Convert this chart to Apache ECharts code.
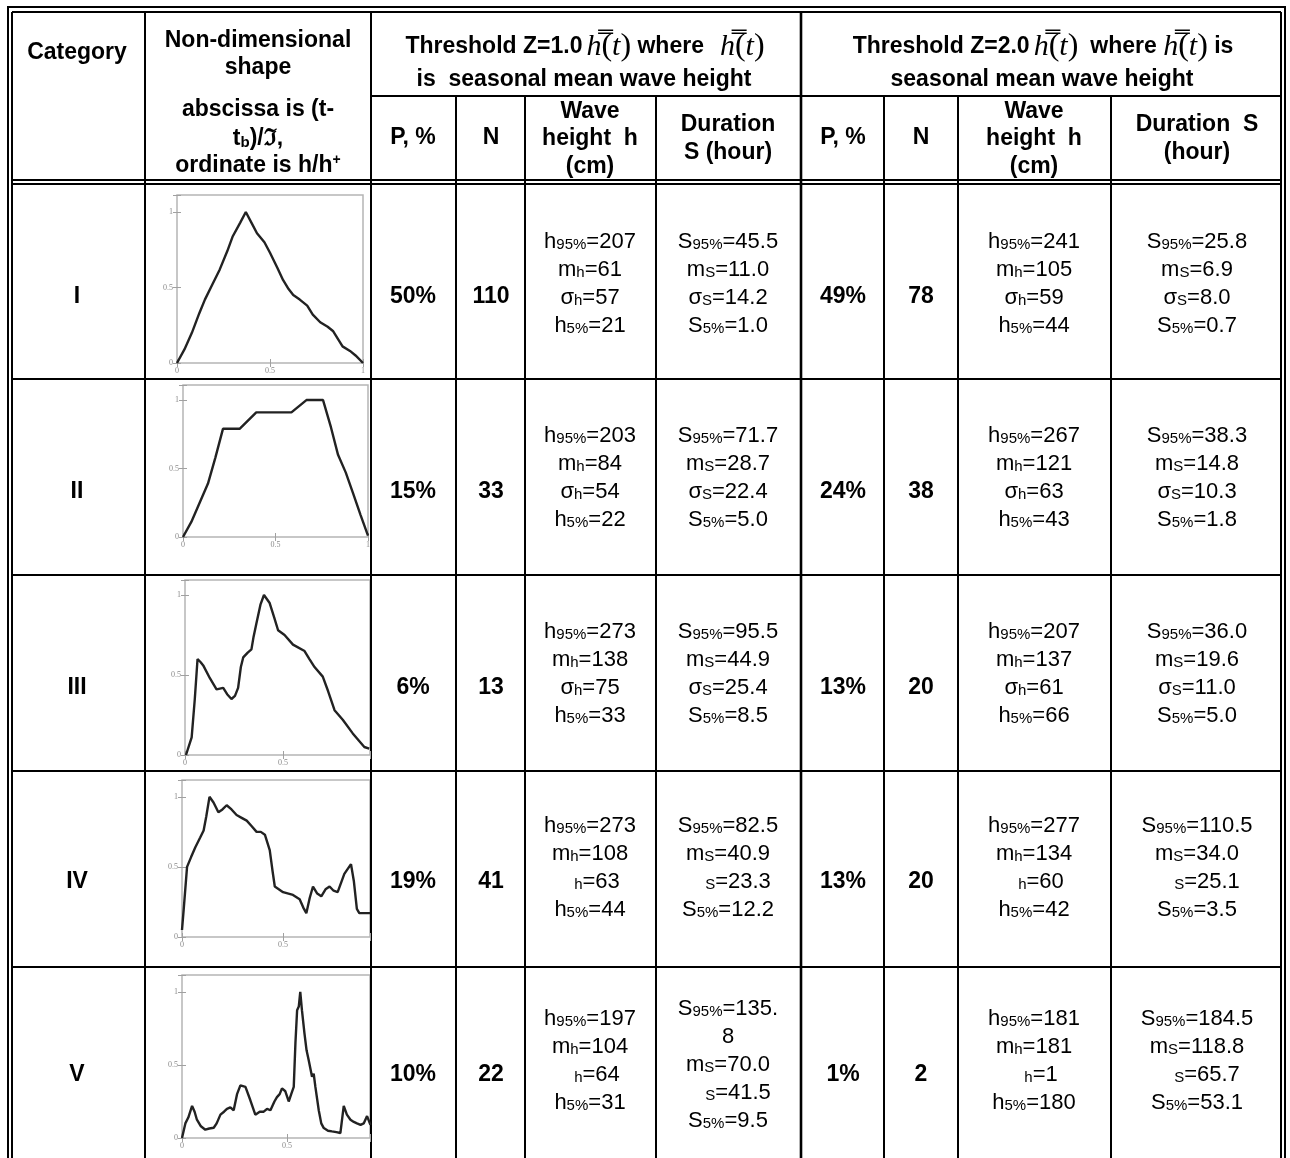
<!DOCTYPE html>
<html>
<head>
<meta charset="utf-8">
<script src="https://cdn.jsdelivr.net/npm/echarts@6/dist/echarts.min.js"></script>
<style>
  html, body { margin: 0; padding: 0; background: #fff; }
  #chart { width: 1290px; height: 1158px; }
</style>
</head>
<body>
<div id="chart"></div>
<script>
// table values
const categories = ["I", "II", "III", "IV", "V"];
const sigmaShown = [true, true, true, false, false];

// threshold Z=1.0
const p1 = ["50%", "15%", "6%", "19%", "10%"];
const n1 = [110, 33, 13, 41, 22];
const h95_1 = [207, 203, 273, 273, 197];
const mh_1 = [61, 84, 138, 108, 104];
const sh_1 = [57, 54, 75, 63, 64];
const h5_1 = [21, 22, 33, 44, 31];
const S95_1 = ["45.5", "71.7", "95.5", "82.5", "135.8"];
const mS_1 = ["11.0", "28.7", "44.9", "40.9", "70.0"];
const sS_1 = ["14.2", "22.4", "25.4", "23.3", "41.5"];
const S5_1 = ["1.0", "5.0", "8.5", "12.2", "9.5"];

// threshold Z=2.0
const p2 = ["49%", "24%", "13%", "13%", "1%"];
const n2 = [78, 38, 20, 20, 2];
const h95_2 = [241, 267, 207, 277, 181];
const mh_2 = [105, 121, 137, 134, 181];
const sh_2 = [59, 63, 61, 60, 1];
const h5_2 = [44, 43, 66, 42, 180];
const S95_2 = ["25.8", "38.3", "36.0", "110.5", "184.5"];
const mS_2 = ["6.9", "14.8", "19.6", "34.0", "118.8"];
const sS_2 = ["8.0", "10.3", "11.0", "25.1", "65.7"];
const S5_2 = ["0.7", "1.8", "5.0", "3.5", "53.1"];

// non-dimensional shapes, [x, h/h+]
const shapeI = [[0, 0], [0.04, 0.09], [0.08, 0.2], [0.12, 0.33], [0.15, 0.42], [0.19, 0.52], [0.23, 0.62], [0.27, 0.74],
  [0.30, 0.84], [0.34, 0.93], [0.37, 1.0], [0.40, 0.93], [0.43, 0.86], [0.47, 0.8], [0.50, 0.73], [0.54, 0.63],
  [0.57, 0.55], [0.6, 0.49], [0.625, 0.45], [0.66, 0.42], [0.70, 0.38], [0.73, 0.32], [0.77, 0.27], [0.81, 0.24],
  [0.84, 0.21], [0.87, 0.15], [0.89, 0.11], [0.93, 0.08], [0.96, 0.05], [1, 0]];
const shapeII = [[0, 0], [0.045, 0.11], [0.09, 0.25], [0.135, 0.39], [0.175, 0.58], [0.216, 0.79], [0.306, 0.79],
  [0.396, 0.91], [0.586, 0.91], [0.667, 1.0], [0.757, 1.0], [0.80, 0.8], [0.838, 0.6], [0.88, 0.47], [0.919, 0.32],
  [0.96, 0.16], [1.0, 0.01]];
const shapeIII = [[0.005, 0], [0.034, 0.11], [0.05, 0.35], [0.064, 0.6], [0.08, 0.58], [0.093, 0.56], [0.127, 0.48],
  [0.161, 0.41], [0.195, 0.42], [0.215, 0.38], [0.237, 0.35], [0.255, 0.37], [0.271, 0.42], [0.285, 0.55],
  [0.297, 0.61], [0.32, 0.64], [0.339, 0.66], [0.35, 0.74], [0.364, 0.82], [0.385, 0.94], [0.403, 1.0],
  [0.432, 0.95], [0.455, 0.86], [0.475, 0.78], [0.508, 0.75], [0.551, 0.69], [0.61, 0.65], [0.635, 0.6],
  [0.661, 0.55], [0.703, 0.49], [0.73, 0.4], [0.763, 0.28], [0.805, 0.22], [0.856, 0.135], [0.915, 0.05],
  [0.94, 0.04]];
const shapeIV = [[0, 0.05], [0.008, 0.19], [0.025, 0.5], [0.045, 0.57], [0.066, 0.64], [0.09, 0.71], [0.107, 0.76],
  [0.12, 0.86], [0.136, 1.0], [0.156, 0.96], [0.18, 0.89], [0.2, 0.91], [0.221, 0.94], [0.245, 0.91],
  [0.27, 0.87], [0.295, 0.85], [0.32, 0.83], [0.345, 0.79], [0.369, 0.75], [0.39, 0.75], [0.41, 0.73],
  [0.434, 0.62], [0.447, 0.48], [0.459, 0.36], [0.5, 0.32], [0.549, 0.3], [0.582, 0.27], [0.6, 0.21],
  [0.615, 0.17], [0.632, 0.28], [0.648, 0.36], [0.669, 0.31], [0.689, 0.29], [0.71, 0.34], [0.73, 0.36],
  [0.75, 0.33], [0.77, 0.32], [0.803, 0.45], [0.836, 0.52], [0.85, 0.4], [0.865, 0.2], [0.877, 0.17],
  [0.93, 0.17]];
const shapeV = [[0, 0], [0.016, 0.1], [0.03, 0.14], [0.048, 0.22], [0.06, 0.18], [0.071, 0.125], [0.09, 0.08],
  [0.111, 0.057], [0.13, 0.065], [0.151, 0.07], [0.165, 0.1], [0.183, 0.16], [0.2, 0.18], [0.214, 0.2],
  [0.23, 0.21], [0.246, 0.19], [0.262, 0.3], [0.278, 0.36], [0.302, 0.35], [0.325, 0.26], [0.349, 0.16],
  [0.37, 0.18], [0.389, 0.18], [0.405, 0.2], [0.421, 0.19], [0.44, 0.25], [0.452, 0.28], [0.465, 0.3],
  [0.476, 0.34], [0.492, 0.32], [0.508, 0.25], [0.52, 0.3], [0.532, 0.35], [0.54, 0.65], [0.548, 0.875],
  [0.556, 0.9], [0.563, 1.0], [0.571, 0.875], [0.583, 0.716], [0.593, 0.6], [0.603, 0.534], [0.619, 0.42],
  [0.627, 0.44], [0.635, 0.35], [0.651, 0.19], [0.663, 0.1], [0.675, 0.068], [0.695, 0.05], [0.714, 0.045],
  [0.735, 0.04], [0.754, 0.034], [0.77, 0.22], [0.785, 0.16], [0.802, 0.125], [0.818, 0.11], [0.833, 0.1],
  [0.85, 0.09], [0.865, 0.1], [0.881, 0.15], [0.897, 0.09]];
const shapes = [shapeI, shapeII, shapeIII, shapeIV, shapeV];
const tickLabels = ["0", "0.5", "1"];

// layout
const FONT = "Liberation Sans, Arial, sans-serif";
const SERIF = "Liberation Serif, Times New Roman, serif";
const rowY = [183, 379, 575, 771, 967, 1158];
const blockY = [284, 478, 674, 868, 1061];
const singleY = [297, 492, 688, 882, 1075];
const plotBox = [
    { left: 177, top: 195, width: 186, height: 168, xMax: 1, yMax: 1.113 },
    { left: 183, top: 385, width: 185, height: 152, xMax: 1, yMax: 1.11 },
    { left: 185, top: 580, width: 185, height: 175, xMax: 0.944, yMax: 1.094 },
    { left: 182, top: 780, width: 188, height: 157, xMax: 0.93, yMax: 1.12 },
    { left: 182, top: 975, width: 188, height: 163, xMax: 0.895, yMax: 1.116 }
];

const rich = {
    n: { fontSize: 22, fontFamily: FONT, fill: "#000" },
    s: { fontSize: 15, fontFamily: FONT, fill: "#000", padding: [6, 0, 0, 0] },
    g: { fontSize: 15, width: 14 },
    gd: { fontSize: 15, width: 20 },
    b: { fontSize: 23, fontFamily: FONT, fontWeight: "bold", fill: "#000" },
    bs: { fontSize: 15, fontFamily: FONT, fontWeight: "bold", fill: "#000", padding: [7, 0, 0, 0] },
    bp: { fontSize: 14, fontFamily: FONT, fontWeight: "bold", fill: "#000", padding: [0, 0, 12, 0] },
    i: { fontSize: 30, fontFamily: SERIF, fontStyle: "italic", fill: "#000" },
    p: { fontSize: 32, fontFamily: SERIF, fill: "#000" },
    w4: { fontSize: 10, width: 4 },
    w12: { fontSize: 10, width: 12 },
    w16: { fontSize: 10, width: 16 }
};

function line(x1, y1, x2, y2, w) {
    return { type: "line", shape: { x1, y1, x2, y2 }, style: { stroke: "#000", lineWidth: w || 2 }, silent: true };
}
function text(x, y, str, lh) {
    return {
        type: "text",
        style: {
            x, y, text: str, rich,
            fontSize: 22, fontFamily: FONT, fill: "#000",
            align: "center", verticalAlign: "middle", lineHeight: lh || 28
        }
    };
}

const graphics = [];

// borders
graphics.push(line(8, 7, 1286, 7), line(12, 12, 1281, 12));
graphics.push(line(8, 6, 8, 1158), line(12, 12, 12, 1158));
graphics.push(line(1285, 6, 1285, 1158), line(1281, 12, 1281, 1158));
graphics.push(line(12, 180, 1281, 180), line(12, 184, 1281, 184));
graphics.push(line(371, 96, 1281, 96));
[145, 371].forEach(x => graphics.push(line(x, 12, x, 1158)));
graphics.push(line(801, 12, 801, 1158, 2.6));
[456, 525, 656, 884, 958, 1111].forEach(x => graphics.push(line(x, 96, x, 1158)));
for (let r = 1; r < rowY.length - 1; r++) graphics.push(line(12, rowY[r], 1281, rowY[r]));

// header
const hbar = "{i|h\u033F}{p|(}{i|t}{p|)}";
graphics.push(text(77, 53, "{b|Category}"));
graphics.push(text(258, 41, "{b|Non-dimensional}"));
graphics.push(text(258, 68, "{b|shape}"));
graphics.push(text(258, 110, "{b|abscissa is (t-}"));
graphics.push(text(258, 139, "{b|t}{bs|b}{b|)/ℑ,}"));
graphics.push(text(258, 166, "{b|ordinate is h/h}{bp|+}"));

graphics.push(text(585, 47, "{b|Threshold Z=1.0}{w4| }" + hbar + "{b| where}{w16| }" + hbar));
graphics.push(text(584, 80, "{b|is  seasonal mean wave height}"));
graphics.push(text(1043, 47, "{b|Threshold Z=2.0}{w4| }" + hbar + "{w12| }{b|where }" + hbar + "{b| is}"));
graphics.push(text(1042, 80, "{b|seasonal mean wave height}"));

[[413, "P, %"], [491, "N"], [843, "P, %"], [921, "N"]].forEach(([x, t]) =>
    graphics.push(text(x, 138, "{b|" + t + "}")));
graphics.push(text(590, 139, "{b|Wave}\n{b|height  h}\n{b|(cm)}", 27.5));
graphics.push(text(728, 139, "{b|Duration}\n{b|S (hour)}"));
graphics.push(text(1034, 139, "{b|Wave}\n{b|height  h}\n{b|(cm)}", 27.5));
graphics.push(text(1197, 139, "{b|Duration  S}\n{b|(hour)}"));

// body
function waveCell(h95, mh, sh, h5, sig) {
    return [
        "{n|h}{s|95%}{n|=" + h95 + "}",
        "{n|m}{s|h}{n|=" + mh + "}",
        (sig ? "{n|σ}" : "{g| }") + "{s|h}{n|=" + sh + "}",
        "{n|h}{s|5%}{n|=" + h5 + "}"
    ].join("\n");
}
function durCell(S95, mS, sS, S5, sig, wrap) {
    const dot = S95.indexOf(".") + 1;
    const first = wrap
        ? "{n|S}{s|95%}{n|=" + S95.slice(0, dot) + "}\n{n|" + S95.slice(dot) + "}"
        : "{n|S}{s|95%}{n|=" + S95 + "}";
    return [
        first,
        "{n|m}{s|S}{n|=" + mS + "}",
        (sig ? "{n|σ}" : "{gd| }") + "{s|S}{n|=" + sS + "}",
        "{n|S}{s|5%}{n|=" + S5 + "}"
    ].join("\n");
}

categories.forEach((c, i) => {
    const cy = blockY[i], sy = singleY[i];
    const wrap = S95_1[i].length > 4;
    graphics.push(text(77, sy, "{b|" + c + "}"));
    graphics.push(text(413, sy, "{b|" + p1[i] + "}"));
    graphics.push(text(491, sy, "{b|" + n1[i] + "}"));
    graphics.push(text(590, cy, waveCell(h95_1[i], mh_1[i], sh_1[i], h5_1[i], sigmaShown[i])));
    graphics.push(text(728, cy + (wrap ? 4 : 0), durCell(S95_1[i], mS_1[i], sS_1[i], S5_1[i], sigmaShown[i], wrap)));
    graphics.push(text(843, sy, "{b|" + p2[i] + "}"));
    graphics.push(text(921, sy, "{b|" + n2[i] + "}"));
    graphics.push(text(1034, cy, waveCell(h95_2[i], mh_2[i], sh_2[i], h5_2[i], sigmaShown[i])));
    graphics.push(text(1197, cy, durCell(S95_2[i], mS_2[i], sS_2[i], S5_2[i], sigmaShown[i], false)));
});

// small shape plots
const tickFmt = v => {
    const k = Math.round(v * 2);
    return Math.abs(v * 2 - k) < 1e-6 && k <= 2 ? tickLabels[k] : "";
};
const grids = [], xAxes = [], yAxes = [], series = [];
plotBox.forEach((b, i) => {
    grids.push({ left: b.left, top: b.top, width: b.width, height: b.height, show: true,
        borderColor: "#b5b5b5", borderWidth: 1.5, backgroundColor: "#fff" });
    const common = {
        type: "value", gridIndex: i, min: 0, interval: 0.5,
        axisLine: { show: false }, splitLine: { show: false },
        axisTick: { inside: true, length: 4, lineStyle: { color: "#a0a0a0", width: 1 } }
    };
    const lab = { fontSize: 8, color: "#8a8a8a", fontFamily: SERIF, margin: 4, formatter: tickFmt };
    xAxes.push(Object.assign({}, common, { max: b.xMax, position: "bottom", axisLabel: lab }));
    xAxes.push(Object.assign({}, common, { max: b.xMax, position: "top", axisLabel: { show: false } }));
    yAxes.push(Object.assign({}, common, { max: b.yMax, position: "left", axisLabel: lab }));
    yAxes.push(Object.assign({}, common, { max: b.yMax, position: "right", axisLabel: { show: false } }));
    series.push({
        type: "line", xAxisIndex: 2 * i, yAxisIndex: 2 * i, data: shapes[i],
        showSymbol: false, silent: true, animation: false,
        lineStyle: { color: "#222", width: 2.4 }
    });
});

const chart = echarts.init(document.getElementById("chart"));
chart.setOption({
    backgroundColor: "#fff",
    animation: false,
    grid: grids,
    xAxis: xAxes,
    yAxis: yAxes,
    series: series,
    graphic: graphics
});
</script>
</body>
</html>
